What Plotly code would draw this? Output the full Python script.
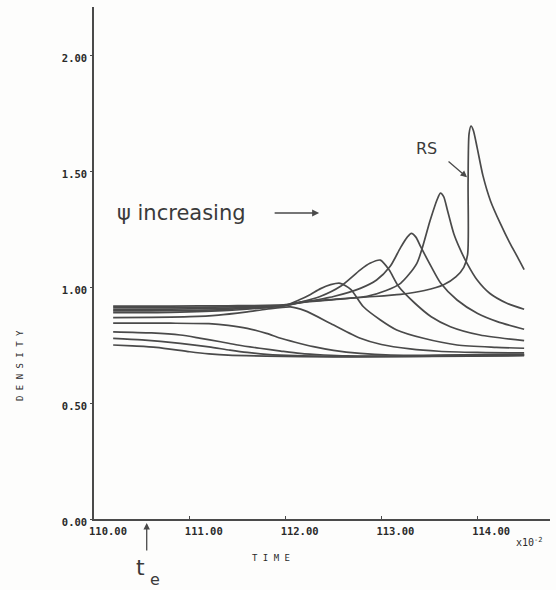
import plotly.graph_objects as go

# ---- data (time in units of 1e-2, density) ----
C1_t = [110.2, 110.4, 110.65, 111.0, 111.2, 111.4, 111.8, 112.5, 113.5, 114.49]
C1_v = [0.750, 0.746, 0.740, 0.721, 0.712, 0.706, 0.702, 0.699, 0.701, 0.704]

C2_t = [110.2, 110.5, 110.9, 111.2, 111.42, 111.6, 111.8, 112.1, 112.8, 113.8, 114.49]
C2_v = [0.779, 0.772, 0.757, 0.742, 0.728, 0.718, 0.710, 0.704, 0.700, 0.703, 0.706]

C3_t = [110.2, 110.6, 110.9, 111.1, 111.32, 111.5, 111.73, 111.95, 112.15, 112.4, 112.64, 113.5, 114.49]
C3_v = [0.807, 0.802, 0.793, 0.780, 0.764, 0.750, 0.736, 0.724, 0.714, 0.707, 0.703, 0.703, 0.708]

C4_t = [110.2, 110.8, 111.2, 111.4, 111.6, 111.8, 111.94, 112.1, 112.29, 112.5, 112.78, 113.1, 113.6, 114.49]
C4_v = [0.844, 0.844, 0.842, 0.835, 0.822, 0.800, 0.780, 0.762, 0.743, 0.727, 0.714, 0.707, 0.706, 0.710]

C5_t = [110.2, 110.6, 111.0, 111.3, 111.6, 111.8, 112.05, 112.2, 112.47, 112.78, 113.0, 113.3, 113.6, 114.0, 114.49]
C5_v = [0.868, 0.869, 0.872, 0.879, 0.893, 0.904, 0.914, 0.898, 0.843, 0.779, 0.752, 0.733, 0.723, 0.718, 0.716]

P5_t = [110.2, 110.8, 111.4, 112.0, 112.15, 112.26, 112.36, 112.47, 112.57, 112.68, 112.81, 112.99, 113.16, 113.44, 113.79, 114.2, 114.49]
P5_v = [0.890, 0.891, 0.899, 0.922, 0.946, 0.968, 0.992, 1.010, 1.016, 0.990, 0.916, 0.858, 0.815, 0.779, 0.750, 0.740, 0.736]

P4_t = [110.2, 110.8, 111.4, 112.0, 112.15, 112.36, 112.57, 112.78, 112.88, 112.989, 113.08, 113.18, 113.35, 113.52, 113.72, 114.03, 114.49]
P4_v = [0.897, 0.898, 0.904, 0.921, 0.934, 0.959, 1.002, 1.074, 1.102, 1.116, 1.074, 1.002, 0.930, 0.872, 0.829, 0.793, 0.769]

P3_t = [110.2, 110.8, 111.4, 112.0, 112.15, 112.5, 112.78, 112.95, 113.09, 113.2, 113.27, 113.313, 113.36, 113.41, 113.52, 113.62, 113.79, 114.0, 114.21, 114.49]
P3_v = [0.904, 0.905, 0.909, 0.921, 0.932, 0.959, 0.994, 1.030, 1.088, 1.170, 1.215, 1.231, 1.215, 1.174, 1.088, 1.016, 0.944, 0.887, 0.851, 0.818]

P2_t = [110.2, 110.8, 111.4, 112.0, 112.15, 112.5, 112.85, 113.05, 113.2, 113.37, 113.51, 113.58, 113.616, 113.65, 113.69, 113.755, 113.825, 113.894, 114.0, 114.13, 114.31, 114.49]
P2_v = [0.911, 0.911, 0.914, 0.922, 0.933, 0.945, 0.960, 0.985, 1.016, 1.102, 1.289, 1.375, 1.405, 1.390, 1.330, 1.231, 1.160, 1.102, 1.030, 0.973, 0.930, 0.904]

RS_t = [110.2, 110.8, 111.4, 112.0, 112.15, 112.5, 112.85, 113.2, 113.45, 113.65, 113.78, 113.86, 113.90, 113.905, 113.915, 113.936, 113.96, 114.0, 114.06, 114.14, 114.24, 114.34, 114.42, 114.49]
RS_v = [0.918, 0.918, 0.919, 0.924, 0.935, 0.947, 0.957, 0.968, 0.985, 1.010, 1.045, 1.085, 1.140, 1.450, 1.660, 1.694, 1.675, 1.600, 1.480, 1.370, 1.275, 1.190, 1.130, 1.075]

x_ticks = [110, 111, 112, 113, 114]
x_tick_labels = ["110.00", "111.00", "112.00", "113.00", "114.00"]
y_ticks = [0, 0.5, 1.0, 1.5, 2.0]
y_tick_labels = ["0.00", "0.50", "1.00", "1.50", "2.00"]

curves = [(C1_t, C1_v), (C2_t, C2_v), (C3_t, C3_v), (C4_t, C4_v), (C5_t, C5_v),
          (P5_t, P5_v), (P4_t, P4_v), (P3_t, P3_v), (P2_t, P2_v), (RS_t, RS_v)]

INK = "#4a4a4a"
fig = go.Figure()
for t, v in curves:
    fig.add_trace(go.Scatter(x=t, y=v, mode="lines",
                             line=dict(color=INK, width=1.7, shape="spline", smoothing=0.7),
                             showlegend=False, hoverinfo="skip"))

tickfont = dict(family="DejaVu Sans Mono", size=10.5, color="#2a2a2a", weight="bold")
fig.update_layout(
    width=556, height=590,
    margin=dict(l=94, r=6, t=7, b=71),
    paper_bgcolor="#fdfdfc", plot_bgcolor="#fdfdfc",
    xaxis=dict(range=[110, 114.76], tickvals=x_ticks, ticktext=x_tick_labels,
               showgrid=False, zeroline=False, showline=True, linecolor=INK, linewidth=1.5,
               ticks="inside", ticklen=3, tickcolor=INK, tickfont=tickfont,
               ticklabelshift=14, ticklabelstandoff=2),
    yaxis=dict(range=[0, 2.207], tickvals=y_ticks, ticktext=y_tick_labels,
               showgrid=False, zeroline=False, showline=True, linecolor=INK, linewidth=1.5,
               ticks="outside", ticklen=2, tickcolor=INK, tickfont=tickfont,
               ticklabelshift=3, ticklabelstandoff=1),
)

hand = dict(family="DejaVu Sans", color="#3a3a3a")
small = dict(family="DejaVu Sans Mono", color="#2a2a2a")
anns = [
    dict(x=0.046, y=0.598, xref="paper", yref="paper", text="ψ increasing", showarrow=False,
         xanchor="left", yanchor="middle", font=dict(size=21, **hand)),
    dict(x=112.35, y=1.319, xref="x", yref="y", text="", showarrow=True, ax=-46, ay=0,
         arrowhead=2, arrowsize=1, arrowwidth=1.4, arrowcolor=INK),
    dict(x=113.47, y=1.595, xref="x", yref="y", text="RS", showarrow=False,
         xanchor="center", yanchor="middle", font=dict(size=16, **hand)),
    dict(x=113.894, y=1.473, xref="x", yref="y", text="", showarrow=True, ax=-20, ay=-17,
         arrowhead=2, arrowsize=1, arrowwidth=1.3, arrowcolor=INK),
    dict(x=0.1156, y=-0.008, xref="paper", yref="paper", text="", showarrow=True, ax=0, ay=29,
         arrowhead=2, arrowsize=1, arrowwidth=1.3, arrowcolor=INK),
    dict(x=0.101, y=-0.094, xref="paper", yref="paper", text="t", showarrow=False,
         xanchor="center", yanchor="middle", font=dict(size=22, **hand)),
    dict(x=0.134, y=-0.119, xref="paper", yref="paper", text="e", showarrow=False,
         xanchor="center", yanchor="middle", font=dict(size=16, **hand)),
    dict(x=0.388, y=-0.076, xref="paper", yref="paper", text="T I M E", showarrow=False,
         xanchor="center", yanchor="middle", font=dict(size=9, **small)),
    dict(x=-0.162, y=0.299, xref="paper", yref="paper", text="D E N S I T Y", showarrow=False,
         textangle=-90, xanchor="center", yanchor="middle", font=dict(size=9, **small)),
    dict(x=0.956, y=-0.045, xref="paper", yref="paper", text="x10<sup>-2</sup>", showarrow=False,
         xanchor="center", yanchor="middle", font=dict(size=10, **small)),
]
fig.update_layout(annotations=anns)
fig.write_html("out.html", config={"displayModeBar": False},
               post_script="document.body.style.margin='0';document.body.style.padding='0';")
